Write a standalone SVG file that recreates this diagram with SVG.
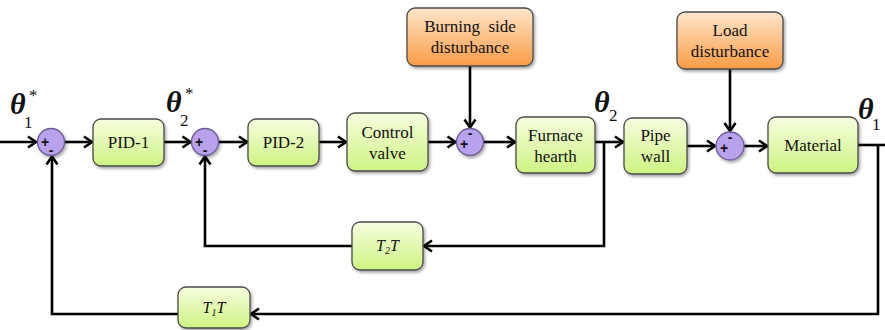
<svg xmlns="http://www.w3.org/2000/svg" width="885" height="330" viewBox="0 0 885 330">
<defs>
<linearGradient id="gGreen" x1="0" y1="0" x2="0" y2="1">
<stop offset="0" stop-color="#f6fdde"/>
<stop offset="1" stop-color="#cef383"/>
</linearGradient>
<linearGradient id="gOrange" x1="0" y1="0" x2="0" y2="1">
<stop offset="0" stop-color="#fee6cc"/>
<stop offset="1" stop-color="#f99c45"/>
</linearGradient>
<filter id="sh" x="-20%" y="-20%" width="150%" height="150%">
<feDropShadow dx="1.5" dy="2" stdDeviation="1.5" flood-color="#000" flood-opacity="0.35"/>
</filter>
<marker id="ar" markerUnits="userSpaceOnUse" markerWidth="14" markerHeight="14" viewBox="0 0 14 14" refX="12" refY="7" orient="auto">
<path d="M4,1.5 L12,7 L4,12.5" fill="none" stroke="#000" stroke-width="2.6" stroke-linejoin="miter"/>
</marker>
<style>
.bx{fill:url(#gGreen);stroke:#4a4a4a;stroke-width:1.3;filter:url(#sh)}
.ob{fill:url(#gOrange);stroke:#4a4a4a;stroke-width:1.3;filter:url(#sh)}
.sm{fill:#b8a2ec;stroke:#6b5b95;stroke-width:1.3;filter:url(#sh)}
.t{font-family:"Liberation Serif","DejaVu Serif",serif;font-size:17px;fill:#111;text-anchor:middle}
.sg{font-family:"Liberation Sans",Arial,sans-serif;font-size:14px;font-weight:bold;fill:#111;text-anchor:middle}
.th{font-family:"Liberation Serif","DejaVu Serif",serif;font-style:italic;font-weight:bold;font-size:30px;fill:#111}
.sub{font-family:"Liberation Serif","DejaVu Serif",serif;font-size:17px;fill:#111}
.tt{font-family:"Liberation Serif","DejaVu Serif",serif;font-style:italic;font-size:16px;fill:#111;text-anchor:middle}
.c{fill:none;stroke:#000;stroke-width:2.6}
</style>
</defs>

<g id="connectors">
<path class="c" d="M0,142 H36" marker-end="url(#ar)"/>
<path class="c" d="M64.5,142 H92" marker-end="url(#ar)"/>
<path class="c" d="M164,142 H190.5" marker-end="url(#ar)"/>
<path class="c" d="M218.5,142 H247" marker-end="url(#ar)"/>
<path class="c" d="M319,142 H346" marker-end="url(#ar)"/>
<path class="c" d="M428,142 H455.5" marker-end="url(#ar)"/>
<path class="c" d="M470,66 V127.5" marker-end="url(#ar)"/>
<path class="c" d="M483.5,142 H515" marker-end="url(#ar)"/>
<path class="c" d="M595,142 H623" marker-end="url(#ar)"/>
<path class="c" d="M687,146 H715" marker-end="url(#ar)"/>
<path class="c" d="M730,69 V131" marker-end="url(#ar)"/>
<path class="c" d="M744,146 H767" marker-end="url(#ar)"/>
<path class="c" d="M858,145 H885"/>
<path class="c" d="M878,145 V314 H251" marker-end="url(#ar)"/>
<path class="c" d="M178,314 H52 V156.5" marker-end="url(#ar)"/>
<path class="c" d="M604,142 V246 H424" marker-end="url(#ar)"/>
<path class="c" d="M352,246 H205 V156.5" marker-end="url(#ar)"/>
</g>

<g id="sum1">
<circle class="sm" cx="51" cy="142" r="13.5"/>
<text class="sg" x="45" y="147">+</text>
<text class="sg" x="51" y="155">-</text>
</g>
<g id="sum2">
<circle class="sm" cx="205" cy="142" r="13.5"/>
<text class="sg" x="199" y="147">+</text>
<text class="sg" x="205" y="155">-</text>
</g>
<g id="sum3">
<circle class="sm" cx="470" cy="142" r="13.5"/>
<text class="sg" x="470" y="138">-</text>
<text class="sg" x="464" y="149">+</text>
</g>
<g id="sum4">
<circle class="sm" cx="730" cy="146" r="14"/>
<text class="sg" x="730" y="142">-</text>
<text class="sg" x="724" y="153">+</text>
</g>

<g id="pid1">
<rect class="bx" x="93" y="119" width="71" height="47" rx="8"/>
<text class="t" x="128.5" y="148">PID-1</text>
</g>
<g id="pid2">
<rect class="bx" x="248" y="119" width="71" height="47" rx="8"/>
<text class="t" x="283.5" y="148">PID-2</text>
</g>
<g id="valve">
<rect class="bx" x="347" y="113" width="81" height="58" rx="8"/>
<text class="t" x="387.5" y="138">Control</text>
<text class="t" x="387.5" y="159">valve</text>
</g>
<g id="burning">
<rect class="ob" x="407" y="8" width="126" height="58" rx="8"/>
<text class="t" x="470" y="32" style="white-space:pre">Burning  side</text>
<text class="t" x="470" y="53">disturbance</text>
</g>
<g id="furnace">
<rect class="bx" x="516" y="117" width="79" height="56" rx="8"/>
<text class="t" x="555.5" y="141">Furnace</text>
<text class="t" x="555.5" y="162">hearth</text>
</g>
<g id="pipe">
<rect class="bx" x="624" y="118" width="63" height="56" rx="8"/>
<text class="t" x="655.5" y="141">Pipe</text>
<text class="t" x="655.5" y="162">wall</text>
</g>
<g id="load">
<rect class="ob" x="677" y="12" width="106" height="57" rx="8"/>
<text class="t" x="730" y="36">Load</text>
<text class="t" x="730" y="57">disturbance</text>
</g>
<g id="material">
<rect class="bx" x="768" y="117" width="90" height="56" rx="8"/>
<text class="t" x="813" y="151">Material</text>
</g>
<g id="t2t">
<rect class="bx" x="352" y="222" width="71" height="48" rx="8"/>
<text class="tt" x="387.5" y="251">T<tspan font-size="10" dy="3">2</tspan><tspan dy="-3">T</tspan></text>
</g>
<g id="t1t">
<rect class="bx" x="178" y="287" width="72" height="41" rx="8"/>
<text class="tt" x="214" y="313">T<tspan font-size="10" dy="3">1</tspan><tspan dy="-3">T</tspan></text>
</g>

<g id="labels">
<text class="th" x="10" y="114">θ</text>
<text class="sub" x="24" y="128">1</text>
<text class="sub" x="29" y="101" font-size="16">*</text>
<text class="th" x="166" y="112">θ</text>
<text class="sub" x="180" y="126">2</text>
<text class="sub" x="185" y="99" font-size="16">*</text>
<text class="th" x="594" y="112">θ</text>
<text class="sub" x="609" y="121">2</text>
<text class="th" x="858" y="119">θ</text>
<text class="sub" x="872" y="130">1</text>
</g>
</svg>
